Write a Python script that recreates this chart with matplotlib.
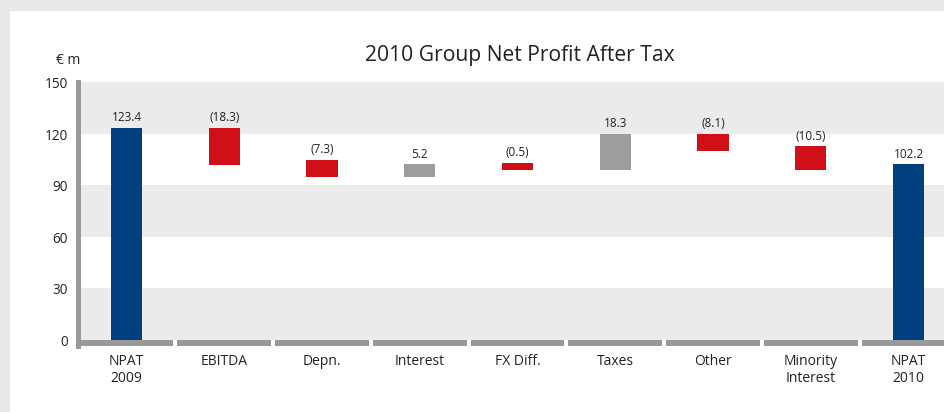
import matplotlib
matplotlib.use("Agg")
import matplotlib.pyplot as plt
from matplotlib.patches import Rectangle
import matplotlib.transforms as mtransforms
import numpy as np

plt.rcParams['font.family'] = ['Open Sans', 'DejaVu Sans']

categories = ["NPAT\n2009", "EBITDA", "Depn.", "Interest", "FX Diff.", "Taxes", "Other", "Minority\nInterest", "NPAT\n2010"]
labels = ["123.4", "(18.3)", "(7.3)", "5.2", "(0.5)", "18.3", "(8.1)", "(10.5)", "102.2"]
kinds = ["total", "neg", "neg", "pos", "neg", "pos", "neg", "neg", "total"]
# bar extents as drawn in the reference (€m)
bar_bottom = [0, 101.7, 94.9, 94.9, 98.8, 98.8, 109.9, 98.8, 0]
bar_top = [123.4, 123.3, 104.7, 102.3, 103.1, 119.8, 119.8, 112.8, 102.2]
yticks = [0, 30, 60, 90, 120, 150]

colors = {"total": "#00407f", "neg": "#d01016", "pos": "#9d9d9d"}

W, H = 944, 412
fig = plt.figure(figsize=(W / 100, H / 100), dpi=100)
fig.patch.set_facecolor("#e9e9e9")
fig.add_artist(Rectangle((10 / W, 0), 1, (H - 11) / H, transform=fig.transFigure,
                         facecolor="white", edgecolor="none", zorder=0))

left_px, right_px = 77.6, 957.4
top_px, bot_px = 82, 340
ax = fig.add_axes([left_px / W, (H - bot_px) / H, (right_px - left_px) / W, (bot_px - top_px) / H])
ax.set_facecolor("none")
ax.set_xlim(-0.5, len(categories) - 0.5)
ax.set_ylim(0, 150)

# stripes
for i in range(len(yticks) - 1):
    if i % 2 == 0:
        ax.axhspan(yticks[i], yticks[i + 1], color="#ebebeb", zorder=0, lw=0)

x = np.arange(len(categories))
heights = [t - b for t, b in zip(bar_top, bar_bottom)]
ax.bar(x, heights, bottom=bar_bottom, width=0.32, color=[colors[k] for k in kinds], zorder=3)
for xi, t, lab in zip(x, bar_top, labels):
    ax.annotate(lab, (xi, t), xytext=(0, 2.5), textcoords="offset points",
                ha="center", va="bottom", fontsize=8.5, color="#222222")

# axis styling
for s in ["top", "right", "bottom"]:
    ax.spines[s].set_visible(False)
ax.spines["left"].set_color("#999999")
ax.spines["left"].set_linewidth(3.6)
ax.spines["left"].set_bounds(-3.4, 150)
ax.set_yticks(yticks)
ax.set_yticklabels([str(v) for v in yticks])
ax.tick_params(axis="y", length=0, pad=7, labelsize=9.8, labelcolor="#222222")
shift = mtransforms.ScaledTranslation(0, -2.5 / 100, fig.dpi_scale_trans)
for lbl in ax.get_yticklabels():
    lbl.set_va("center")
    lbl.set_transform(lbl.get_transform() + shift)
ax.set_xticks(x)
ax.set_xticklabels(categories)
ax.tick_params(axis="x", length=0, pad=10, labelsize=10, labelcolor="#222222")

# segmented baseline
gap = 0.02
for i in range(len(categories)):
    x0 = i - 0.5 + (0 if i == 0 else gap)
    x1 = i + 0.5 - gap
    ax.plot([x0, x1], [-1.75, -1.75], color="#999999", lw=4.3, solid_capstyle="butt",
            clip_on=False, zorder=4)

fig.text(520 / W, 1 - 55 / H, "2010 Group Net Profit After Tax", ha="center", va="center",
         fontsize=15.2, color="#222222")
fig.text(80 / W, 1 - 60 / H, "€ m", ha="right", va="center", fontsize=10, color="#222222")

fig.savefig("out.png", dpi=100)
